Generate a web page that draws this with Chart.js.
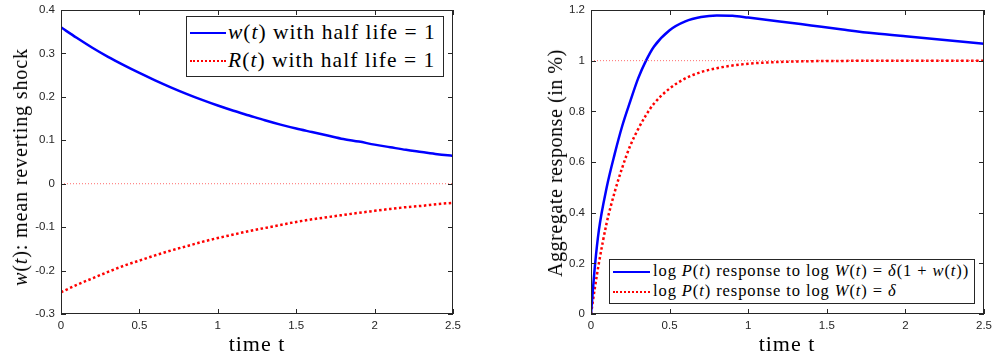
<!DOCTYPE html>
<html>
<head>
<meta charset="utf-8">
<script src="https://cdn.jsdelivr.net/npm/chart.js@4/dist/chart.umd.min.js"></script>
<style>
  html, body { margin:0; padding:0; background:#fff; }
  body { width:992px; height:358px; position:relative; overflow:hidden; }
  .cw { position:absolute; top:0; height:358px; }
  .serif { font-family:"Liberation Serif","DejaVu Serif",serif; color:#000; position:absolute; white-space:pre; line-height:1; }
  .legend { position:absolute; background:#fff; border:1px solid #262626; box-sizing:border-box; }
  .sample { position:absolute; height:0; }
  i { font-style:italic; }
  .ytitle { transform-origin:center center; }
</style>
</head>
<body>
<div class="cw" style="left:0;width:470px;"><canvas id="c1"></canvas></div>
<div class="cw" style="left:520px;width:472px;"><canvas id="c2"></canvas></div>

<!-- axis titles -->
<div class="serif fit" data-target="57" style="left:257px;top:333px;font-size:22px;transform:translateX(-50%);">time t</div>
<div class="serif fit" data-target="57" style="left:787px;top:333px;font-size:22px;transform:translateX(-50%);">time t</div>
<div class="serif ytitle fit" data-target="238" style="left:20px;top:167px;font-size:20px;transform:translate(-50%,-50%) rotate(-90deg);"><i>w</i>(<i>t</i>): mean reverting shock</div>
<div class="serif ytitle fit" data-target="228" style="left:555px;top:163px;font-size:20px;transform:translate(-50%,-50%) rotate(-90deg);">Aggregate response (in %)</div>

<!-- legends -->
<div class="legend" style="left:186px;top:16px;width:258px;height:61px;">
  <span class="sample" style="left:3px;top:15px;width:36px;border-top:2.5px solid #0000ff;"></span>
  <span class="serif fit" data-target="208" style="left:41px;top:5px;font-size:21.5px;"><i>w</i>(<i>t</i>) with half life = 1</span>
  <span class="sample" style="left:3px;top:43px;width:36px;border-top:2.5px dotted #ff0000;"></span>
  <span class="serif fit" data-target="208" style="left:41px;top:33px;font-size:21.5px;"><i>R</i>(<i>t</i>) with half life = 1</span>
</div>
<div class="legend" style="left:609px;top:259px;width:366px;height:45px;">
  <span class="sample" style="left:3px;top:11px;width:37px;border-top:2.5px solid #0000ff;"></span>
  <span class="serif fit" data-target="316" style="left:43px;top:3px;font-size:16.5px;">log <i>P</i>(<i>t</i>) response to log <i>W</i>(<i>t</i>) = <i>δ</i>(1 + <i>w</i>(<i>t</i>))</span>
  <span class="sample" style="left:3px;top:31px;width:37px;border-top:2.5px dotted #ff0000;"></span>
  <span class="serif fit" data-target="244" style="left:43px;top:23px;font-size:16.5px;">log <i>P</i>(<i>t</i>) response to log <i>W</i>(<i>t</i>) = <i>δ</i></span>
</div>

<script>
// ---------- data ----------
const tLeft = [0,0.1,0.2,0.3,0.4,0.5,0.6,0.7,0.8,0.9,1.0,1.1,1.2,1.3,1.4,1.5,1.6,1.7,1.8,1.9,2.0,2.1,2.2,2.3,2.4,2.5];
const wValues = [0.36,0.336,0.313,0.292,0.273,0.255,0.238,0.222,0.207,0.193,0.18,0.168,0.157,0.146,0.136,0.127,0.119,0.111,0.103,0.097,0.09,0.084,0.078,0.073,0.068,0.064];
const rValues = [-0.25,-0.233,-0.218,-0.203,-0.189,-0.177,-0.165,-0.154,-0.144,-0.134,-0.125,-0.117,-0.109,-0.102,-0.095,-0.088,-0.082,-0.077,-0.072,-0.067,-0.0625,-0.058,-0.054,-0.051,-0.047,-0.044];
const leftRefLine = [0, 0];

const tRight = [0,0.025,0.05,0.1,0.15,0.2,0.25,0.3,0.35,0.4,0.5,0.6,0.7,0.8,0.9,1.0,1.2,1.4,1.6,1.8,2.0,2.2,2.4,2.5];
const pShockValues = [0,0.19,0.33,0.5,0.63,0.745,0.84,0.93,1.0,1.055,1.12,1.155,1.172,1.178,1.177,1.17,1.155,1.139,1.123,1.108,1.096,1.085,1.073,1.067];
const pConstValues = [0,0.105,0.2,0.36,0.48,0.58,0.665,0.73,0.785,0.83,0.89,0.93,0.955,0.97,0.981,0.988,0.995,0.998,0.999,1.0,1.0,1.0,1.0,1.0];
const rightRefLine = [1, 1];

const xTicks = [0,0.5,1,1.5,2,2.5];
const leftYTicks = [-0.3,-0.2,-0.1,0,0.1,0.2,0.3,0.4];
const rightYTicks = [0,0.2,0.4,0.6,0.8,1,1.2];

// ---------- fit text widths (spacing only) ----------
document.querySelectorAll('.fit').forEach(el => {
  const target = parseFloat(el.dataset.target);
  el.style.letterSpacing = '0px';
  const w = el.offsetWidth;
  const n = el.textContent.length;
  const ls = Math.max(0, (target - w) / n);
  el.style.letterSpacing = ls.toFixed(2) + 'px';
});

// ---------- helpers ----------
const pts = (xs, ys) => xs.map((x, i) => ({x, y: ys[i]}));
const AXIS = '#262626';

const boxPlugin = {
  id: 'matlabBox',
  afterDraw(chart) {
    const {ctx, chartArea: a, scales} = chart;
    ctx.save();
    ctx.strokeStyle = AXIS;
    ctx.lineWidth = 1;
    ctx.strokeRect(a.left + 0.5, a.top + 0.5, a.right - a.left - 1, a.bottom - a.top - 1);
    const L = 5;
    ctx.beginPath();
    scales.x.ticks.forEach(t => {
      const px = Math.round(scales.x.getPixelForValue(t.value)) + 0.5;
      ctx.moveTo(px, a.bottom); ctx.lineTo(px, a.bottom - L);
      ctx.moveTo(px, a.top); ctx.lineTo(px, a.top + L);
    });
    scales.y.ticks.forEach(t => {
      const py = Math.round(scales.y.getPixelForValue(t.value)) + 0.5;
      ctx.moveTo(a.left, py); ctx.lineTo(a.left + L, py);
      ctx.moveTo(a.right, py); ctx.lineTo(a.right - L, py);
    });
    ctx.stroke();
    ctx.restore();
  }
};

function fmt(v) { return String(Math.round(v * 10) / 10); }

function makeChart(id, datasets, yMin, yMax, yTicks, yWidth, rightPad) {
  return new Chart(document.getElementById(id), {
    type: 'line',
    data: { datasets },
    options: {
      responsive: true,
      maintainAspectRatio: false,
      animation: false,
      layout: { padding: { top: 10, right: rightPad, bottom: 0, left: 0 } },
      plugins: { legend: { display: false }, tooltip: { enabled: false } },
      elements: { point: { radius: 0 } },
      scales: {
        x: {
          type: 'linear', min: 0, max: 2.5,
          grid: { display: false, drawTicks: false },
          border: { display: false },
          afterBuildTicks: s => { s.ticks = xTicks.map(v => ({value: v})); },
          afterFit: s => { s.height = 44; s.paddingLeft = 0; s.paddingRight = 0; },
          ticks: { padding: 5, color: AXIS, font: { family: 'Liberation Sans, Arial, sans-serif', size: 11.5 }, callback: v => fmt(v), maxRotation: 0 }
        },
        y: {
          type: 'linear', min: yMin, max: yMax,
          grid: { display: false, drawTicks: false },
          border: { display: false },
          afterBuildTicks: s => { s.ticks = yTicks.map(v => ({value: v})); },
          afterFit: s => { s.width = yWidth; s.paddingTop = 0; s.paddingBottom = 0; },
          ticks: { padding: 6, color: AXIS, font: { family: 'Liberation Sans, Arial, sans-serif', size: 11.5 }, callback: v => fmt(v) }
        }
      }
    },
    plugins: [boxPlugin]
  });
}

makeChart('c1', [
  { data: pts([0, 2.5], leftRefLine), borderColor: 'rgba(255,60,60,0.75)', borderWidth: 1, borderDash: [1, 2], fill: false },
  { data: pts(tLeft, wValues), borderColor: '#0000ff', borderWidth: 2.5, cubicInterpolationMode: 'monotone', fill: false },
  { data: pts(tLeft, rValues), borderColor: '#ff0000', borderWidth: 2.5, borderDash: [2.5, 2.5], cubicInterpolationMode: 'monotone', fill: false }
], -0.3, 0.4, leftYTicks, 61, 17);

makeChart('c2', [
  { data: pts([0, 2.5], rightRefLine), borderColor: 'rgba(255,60,60,0.75)', borderWidth: 1, borderDash: [1, 2], fill: false },
  { data: pts(tRight, pShockValues), borderColor: '#0000ff', borderWidth: 2.5, cubicInterpolationMode: 'monotone', fill: false },
  { data: pts(tRight, pConstValues), borderColor: '#ff0000', borderWidth: 2.5, borderDash: [2.5, 2.5], cubicInterpolationMode: 'monotone', fill: false }
], 0, 1.2, rightYTicks, 71, 8);
</script>
</body>
</html>
